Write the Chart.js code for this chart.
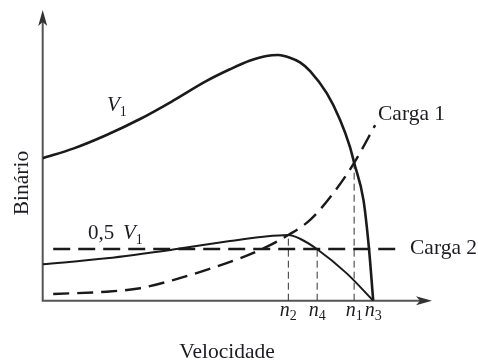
<!DOCTYPE html>
<html>
<head>
<meta charset="utf-8">
<script src="https://cdn.jsdelivr.net/npm/chart.js@4.4.1/dist/chart.umd.min.js"></script>
<style>
  html, body { margin: 0; padding: 0; background: #fff; }
</style>
</head>
<body>
<canvas id="torqueChart" width="478" height="361"></canvas>
<script>
// Torque vs speed (arbitrary units, 0..100 on both axes)
const v1Speed  = [0, 8.0, 16.4, 25.0, 33.5, 42.1, 48.1, 53.3, 57.5, 60.5, 63.5, 66.1, 68.7, 73.0, 76.4, 78.9, 80.0, 82.4, 83.8, 84.9];
const v1Torque = [49.0, 52.4, 57.0, 62.5, 68.8, 75.6, 79.6, 82.6, 84.2, 84.5, 83.6, 82.0, 79.0, 71.3, 62.2, 53.0, 47.4, 34.6, 18.1, 0];

const halfV1Speed  = [0, 16.4, 33.5, 48.1, 56.7, 63.1, 66.1, 70.5, 78.1, 84.9];
const halfV1Torque = [12.5, 14.6, 17.6, 20.5, 22.0, 22.6, 21.3, 17.7, 9.4, 0];

const load1Speed  = [2.7, 16.4, 25.0, 33.5, 42.1, 50.7, 56.7, 63.1, 68.7, 74.6, 80.0, 85.4];
const load1Torque = [2.3, 3.1, 4.3, 7.1, 10.6, 14.6, 18.0, 22.6, 27.8, 36.9, 47.4, 60.4];

const load2Speed  = [2.7, 92.3];
const load2Torque = [17.8, 17.8];

// operating points on the speed axis: n2, n4, n1, n3
const tickValues = [63.1, 70.5, 80.0, 84.9];
const tickSubs   = ['2', '4', '1', '3'];
const guideTorque = [22.6, 17.7, 47.4, 0];

const SERIF = '"Liberation Serif", "DejaVu Serif", serif';
const INK = '#1c1c24';

const toPoints = (xs, ys) => xs.map((x, i) => ({ x, y: ys[i] }));

const guideSets = tickValues
  .map((v, i) => ({ v, top: guideTorque[i] }))
  .filter(g => g.top > 0)
  .map(g => ({
    data: [{ x: g.v, y: 0 }, { x: g.v, y: g.top }],
    borderColor: '#333',
    borderWidth: 1,
    borderDash: [7, 4],
    tension: 0
  }));

// axis lines with arrow heads
const axesPlugin = {
  id: 'arrowAxes',
  beforeDatasetsDraw(chart) {
    const { ctx, chartArea: a } = chart;
    ctx.save();
    ctx.strokeStyle = '#555';
    ctx.fillStyle = '#333';
    ctx.lineWidth = 2;
    ctx.beginPath();
    ctx.moveTo(a.left, a.top + 10);
    ctx.lineTo(a.left, a.bottom);
    ctx.lineTo(a.right - 10, a.bottom);
    ctx.stroke();
    // y arrow
    ctx.beginPath();
    ctx.moveTo(a.left, a.top);
    ctx.lineTo(a.left - 4.5, a.top + 16);
    ctx.lineTo(a.left, a.top + 12);
    ctx.lineTo(a.left + 4.5, a.top + 16);
    ctx.closePath();
    ctx.fill();
    // x arrow
    ctx.beginPath();
    ctx.moveTo(a.right, a.bottom);
    ctx.lineTo(a.right - 16, a.bottom - 4.5);
    ctx.lineTo(a.right - 12, a.bottom);
    ctx.lineTo(a.right - 16, a.bottom + 4.5);
    ctx.closePath();
    ctx.fill();
    ctx.restore();
  }
};

// draws italic symbol with a subscript, starting at x (or centred)
function symbolWithSub(ctx, sym, sub, x, y, size, centred) {
  ctx.font = `italic ${size}px ${SERIF}`;
  const w1 = ctx.measureText(sym).width;
  ctx.font = `${Math.round(size * 0.68)}px ${SERIF}`;
  const w2 = ctx.measureText(sub).width;
  const x0 = centred ? x - (w1 + w2) / 2 : x;
  ctx.font = `italic ${size}px ${SERIF}`;
  ctx.fillText(sym, x0, y);
  ctx.font = `${Math.round(size * 0.68)}px ${SERIF}`;
  ctx.fillText(sub, x0 + w1, y + size * 0.22);
  return w1 + w2;
}

const labelPlugin = {
  id: 'labels',
  afterDraw(chart) {
    const { ctx, chartArea: a, scales } = chart;
    ctx.save();
    ctx.fillStyle = INK;
    ctx.textBaseline = 'alphabetic';
    ctx.textAlign = 'left';

    tickValues.forEach((v, i) => {
      symbolWithSub(ctx, 'n', tickSubs[i], scales.x.getPixelForValue(v), a.bottom + 15, 20, true);
    });

    symbolWithSub(ctx, 'V', '1', 107, 111, 21, false);

    ctx.font = `21px ${SERIF}`;
    ctx.fillText('0,5', 88, 239);
    symbolWithSub(ctx, 'V', '1', 123, 239, 21, false);

    ctx.font = `21.5px ${SERIF}`;
    ctx.fillText('Carga 1', 378, 120);
    ctx.fillText('Carga 2', 410, 254);

    ctx.textAlign = 'center';
    ctx.fillText('Velocidade', 227, 358);

    ctx.translate(28, 183);
    ctx.rotate(-Math.PI / 2);
    ctx.fillText('Binário', 0, 0);
    ctx.restore();
  }
};

new Chart(document.getElementById('torqueChart'), {
  type: 'line',
  data: {
    datasets: [
      { data: toPoints(v1Speed, v1Torque), borderColor: '#1a1a1a', borderWidth: 2.6, cubicInterpolationMode: 'monotone' },
      { data: toPoints(halfV1Speed, halfV1Torque), borderColor: '#1a1a1a', borderWidth: 2, cubicInterpolationMode: 'monotone' },
      { data: toPoints(load1Speed, load1Torque), borderColor: '#1a1a1a', borderWidth: 2.4, borderDash: [16, 8], cubicInterpolationMode: 'monotone' },
      { data: toPoints(load2Speed, load2Torque), borderColor: '#1a1a1a', borderWidth: 2.4, borderDash: [17, 8] },
      ...guideSets
    ]
  },
  options: {
    responsive: false,
    animation: false,
    layout: { padding: { left: 42.7, top: 10, right: 46, bottom: 60.3 } },
    elements: { point: { radius: 0 } },
    plugins: { legend: { display: false }, tooltip: { enabled: false } },
    scales: {
      x: { type: 'linear', min: 0, max: 100, display: false },
      y: { type: 'linear', min: 0, max: 100, display: false }
    }
  },
  plugins: [axesPlugin, labelPlugin]
});
</script>
</body>
</html>
